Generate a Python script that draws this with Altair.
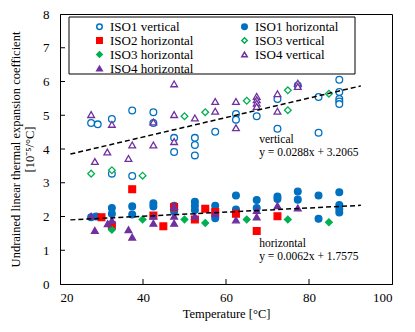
import altair as alt
import pandas as pd

series_order = ["ISO1 vertical", "ISO1 horizontal", "ISO2 horizontal", "ISO3 vertical",
                "ISO3 horizontal", "ISO4 vertical", "ISO4 horizontal"]

iso1_v_t = [27.5, 29.1, 32.5, 32.5, 37.4, 37.4, 42.5, 42.5, 47.5, 47.5, 52.5, 52.5, 52.5, 57.4,
            62.4, 62.4, 67.4, 72.4, 72.4, 77.3, 82.3, 82.3, 87.3, 87.3, 87.3, 87.3, 87.3]
iso1_v_y = [4.77, 4.73, 4.89, 3.27, 5.14, 3.20, 5.09, 4.77, 4.33, 3.91, 4.33, 4.12, 3.81, 4.51,
            5.04, 4.87, 4.97, 5.48, 4.60, 5.88, 5.54, 4.48, 6.05, 5.69, 5.48, 5.41, 5.33]

iso1_h_t = [27.5, 28.7, 32.5, 32.5, 37.4, 37.4, 42.5, 42.5, 47.5, 47.5, 52.5, 52.5, 52.5, 57.4, 57.4,
            62.4, 62.4, 67.4, 67.4, 72.4, 72.4, 77.3, 77.3, 82.3, 82.3, 87.3, 87.3, 87.3, 87.3]
iso1_h_y = [1.98, 2.00, 2.25, 2.08, 2.30, 2.06, 2.39, 2.30, 2.32, 2.15, 2.44, 2.32, 2.19, 2.32, 1.95,
            2.62, 2.21, 2.49, 2.25, 2.59, 2.52, 2.74, 2.50, 2.62, 1.93, 2.72, 2.34, 2.22, 2.12]

iso2_h_t = [30.0, 32.5, 37.4, 42.5, 44.9, 47.5, 52.5, 55.0, 57.4, 62.4, 67.4, 72.4]
iso2_h_y = [1.98, 1.74, 2.81, 2.03, 1.71, 2.28, 1.91, 2.23, 2.13, 2.08, 1.57, 2.01]

iso3_v_t = [27.5, 32.5, 39.9, 50.0, 55.0, 65.0, 74.9, 74.9, 84.8]
iso3_v_y = [3.27, 3.37, 3.21, 4.97, 5.09, 5.43, 5.74, 5.15, 5.64]

iso3_h_t = [32.5, 39.9, 50.0, 55.0, 65.0, 74.9, 84.8]
iso3_h_y = [1.61, 1.91, 1.91, 1.81, 1.91, 1.91, 1.83]

iso4_v_t = [27.5, 28.4, 31.4, 32.5, 36.5, 37.4, 42.5, 42.5, 47.5, 47.5, 47.5, 52.5, 57.4, 57.4,
            62.4, 62.4, 67.4, 67.4, 67.4, 67.4, 72.4, 72.4, 77.3, 77.3]
iso4_v_y = [5.02, 3.63, 3.91, 4.73, 3.72, 4.12, 4.80, 4.12, 5.93, 5.02, 4.22, 4.92, 5.41, 5.12,
            5.41, 4.63, 5.56, 5.46, 5.36, 5.26, 5.64, 5.12, 5.95, 5.85]

iso4_h_t = [27.5, 28.4, 31.5, 32.5, 36.5, 37.4, 42.5, 42.5, 47.5, 47.5, 47.5, 52.5, 57.4, 62.4,
            67.4, 67.4, 72.4, 77.3]
iso4_h_y = [2.01, 1.59, 1.79, 1.88, 1.61, 1.39, 2.01, 1.80, 2.30, 2.01, 1.80, 2.01, 2.08, 1.90,
            2.18, 1.99, 2.32, 2.25]

trend_x = [22.5, 92.5]
trend_vertical_y = [3.85, 5.87]
trend_horizontal_y = [1.90, 2.33]

annot_text = ["vertical", "y = 0.0288x + 3.2065", "horizontal", "y = 0.0062x + 1.7575"]

x_labels = [20, 40, 60, 80, 100]
y_labels = [0, 1, 2, 3, 4, 5, 6, 7, 8]
x_ticks = [40, 60, 80]
y_ticks = [1, 2, 3, 4, 5, 6, 7]

colors = ["#0070C0", "#0070C0", "#FF0000", "#00B050", "#00B050", "#7030A0", "#7030A0"]
fills = ["white", "#0070C0", "#FF0000", "white", "#00B050", "white", "#7030A0"]
shapes = ["circle", "circle", "square", "diamond", "diamond", "triangle-up", "triangle-up"]

rows = []
for name, ts, ys in [
    ("ISO1 vertical", iso1_v_t, iso1_v_y),
    ("ISO1 horizontal", iso1_h_t, iso1_h_y),
    ("ISO2 horizontal", iso2_h_t, iso2_h_y),
    ("ISO3 vertical", iso3_v_t, iso3_v_y),
    ("ISO3 horizontal", iso3_h_t, iso3_h_y),
    ("ISO4 vertical", iso4_v_t, iso4_v_y),
    ("ISO4 horizontal", iso4_h_t, iso4_h_y),
]:
    for t, y in zip(ts, ys):
        rows.append({"series": name, "t": t, "v": y})
df = pd.DataFrame(rows)

trend_df = pd.DataFrame({
    "t": trend_x + trend_x,
    "v": trend_vertical_y + trend_horizontal_y,
    "g": ["v", "v", "h", "h"],
})

annot_df = pd.DataFrame({
    "text": annot_text,
    "t": [68.0, 68.0, 68.0, 68.0],
    "v": [4.27, 3.87, 1.2, 0.8],
})

FONT = "Liberation Serif"
W, H = 332, 270

xs = alt.Scale(domain=[20, 100], nice=False)
ys = alt.Scale(domain=[0, 8], nice=False)

x_axis = alt.Axis(values=x_labels, ticks=False, tickSize=0, labelPadding=7, labelOverlap=False,
                  labelFont=FONT, labelFontSize=13, titleFont=FONT, titleFontSize=12.5,
                  title="Temperature [°C]", titlePadding=3, grid=False)
y_axis = alt.Axis(values=y_labels, ticks=False, tickSize=0, labelPadding=11, labelOverlap=False,
                  labelFont=FONT, labelFontSize=13, titleFont=FONT, titleFontSize=12.5,
                  title=["Undrained linear thermal expansion coefficient", "[10⁻⁵/°C]"],
                  titlePadding=6, grid=False)

X = lambda: alt.X("t:Q", scale=xs, axis=x_axis)
Y = lambda: alt.Y("v:Q", scale=ys, axis=y_axis)

legend = alt.Legend(title=None, orient="none", legendX=33, legendY=6, columns=2,
                    direction="horizontal",
                    columnPadding=44, rowPadding=-4, symbolSize=30, symbolStrokeWidth=1.5,
                    labelFont=FONT, labelFontSize=13, labelOffset=4, padding=0, labelLimit=200)

points = alt.Chart(df).mark_point(filled=True, size=45, opacity=1, strokeWidth=1.3).encode(
    x=X(),
    y=Y(),
    fill=alt.Fill("series:N", scale=alt.Scale(domain=series_order, range=fills), legend=legend),
    stroke=alt.Stroke("series:N", scale=alt.Scale(domain=series_order, range=colors), legend=legend),
    shape=alt.Shape("series:N", scale=alt.Scale(domain=series_order, range=shapes), legend=legend),
    order=alt.Order("idx:Q"),
).transform_calculate(idx="indexof(%s, datum.series)" % str(series_order))

trend = alt.Chart(trend_df).mark_line(color="black", strokeDash=[5, 3], strokeWidth=1.5).encode(
    x=X(),
    y=Y(),
    detail="g:N",
)

annot = alt.Chart(annot_df).mark_text(font=FONT, fontSize=11.5, align="left", baseline="middle",
                                      color="black").encode(
    x=X(),
    y=Y(),
    text="text:N",
)

xt = alt.Chart(pd.DataFrame({"t": x_ticks})).mark_rule(color="black", strokeWidth=1).encode(
    x=X(), y=alt.value(H), y2=alt.value(H - 5))
yt = alt.Chart(pd.DataFrame({"v": y_ticks})).mark_rule(color="black", strokeWidth=1).encode(
    y=Y(), x=alt.value(0), x2=alt.value(5))

frame = alt.Chart(pd.DataFrame({"k": [0]})).mark_rect(fill=None, stroke="black", strokeWidth=1).encode(
    x=alt.value(9), x2=alt.value(295), y=alt.value(3), y2=alt.value(60))

chart = alt.layer(points, trend, annot, xt, yt, frame).properties(
    width=W, height=H,
    background="white",
    autosize=alt.AutoSizeParams(type="none"),
    padding={"left": 52, "top": 6, "right": 15, "bottom": 40},
).configure_view(stroke="black", strokeWidth=1).configure_axis(
    labelFont=FONT, titleFont=FONT, labelFontSize=13, titleFontSize=12.5,
    titleFontWeight="normal", labelColor="black", titleColor="black",
    domainColor="black", domainWidth=1,
)

chart.save("out.html", embed_options={"renderer": "svg", "actions": False})
